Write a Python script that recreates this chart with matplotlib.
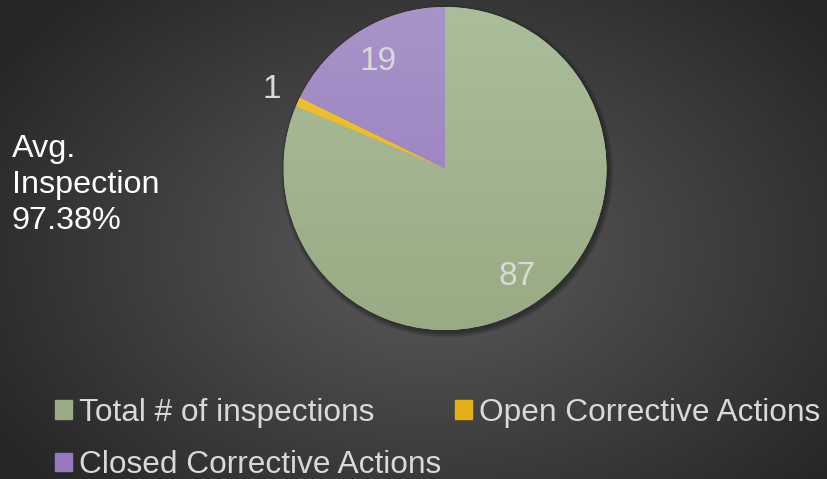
import numpy as np
import matplotlib
matplotlib.use("Agg")
import matplotlib.pyplot as plt
from matplotlib.patches import Patch, Circle
from matplotlib.colors import to_rgb

plt.rcParams['font.family'] = ['Liberation Sans', 'DejaVu Sans']

# chart data
labels = ['Total # of inspections', 'Open Corrective Actions', 'Closed Corrective Actions']
values = [87, 1, 19]
colors_top = ['#abbe9b', '#f2c53a', '#a994c9']
colors_bottom = ['#98ab84', '#e4b018', '#9479bd']
label_dist = [0.80, 1.18, 0.78]
avg_text = 'Avg.\nInspection\n97.38%'

W, H = 828, 479
fig = plt.figure(figsize=(W / 100, H / 100), dpi=100)

# radial background
bg = fig.add_axes([0, 0, 1, 1])
yy, xx = np.mgrid[0:H, 0:W]
r = np.sqrt(((xx - 430) / (W * 0.62)) ** 2 + ((yy - 250) / (H * 0.75)) ** 2)
r = np.clip(r, 0, 1)
c0, c1 = np.array(to_rgb('#5c5c5c')), np.array(to_rgb('#262626'))
img = c0[None, None, :] * (1 - r[..., None]) + c1[None, None, :] * r[..., None]
bg.imshow(img, aspect='auto', extent=[0, W, H, 0])
bg.set_axis_off()

# pie axes (extra margin so the outside label is not clipped)
cx, cy, rad = 445 / W, 1 - 168.5 / H, 161.5
m = 1.3
ax = fig.add_axes([cx - m * rad / W, cy - m * rad / H, 2 * m * rad / W, 2 * m * rad / H])
ax.set_axis_off()

# soft shadow
for k in range(6):
    ax.add_patch(Circle((0.012, -0.018), 1.0 + 0.006 * k, color='black',
                        alpha=0.07, lw=0, zorder=0))

wedges, _ = ax.pie(values, startangle=90, counterclock=False, radius=1,
                   colors=colors_top, wedgeprops=dict(linewidth=0))

grad = np.linspace(0, 1, 256)[:, None]
for w, ct, cb in zip(wedges, colors_top, colors_bottom):
    a, b = np.array(to_rgb(ct)), np.array(to_rgb(cb))
    g = a[None, None, :] * (1 - grad[..., None]) + b[None, None, :] * grad[..., None]
    g = np.repeat(g, 2, axis=1)
    im = ax.imshow(g, extent=[-1, 1, -1, 1], aspect='auto', zorder=2)
    im.set_clip_path(w)
    w.set_zorder(1)

for w, v, d in zip(wedges, values, label_dist):
    mid = np.deg2rad((w.theta1 + w.theta2) / 2)
    ax.text(d * np.cos(mid), d * np.sin(mid), str(v), ha='center', va='center',
            fontsize=24, color='#d9d9d9', zorder=5)
ax.set_xlim(-m, m)
ax.set_ylim(-m, m)
ax.set_aspect('equal')

fig.text(12 / W, 1 - 185 / H, avg_text, ha='left', va='center', fontsize=23.3,
         color='white', linespacing=1.24)

handles = [Patch(color=colors_bottom[i], label=labels[i]) for i in range(3)]
order = [0, 2, 1]
leg = fig.legend([handles[i] for i in order], [labels[i] for i in order],
                 ncol=2, loc='upper left', bbox_to_anchor=(55 / W, 1 - 398 / H),
                 frameon=False, fontsize=22.8, labelcolor='#d9d9d9',
                 handlelength=0.53, handleheight=0.53, handletextpad=0.22,
                 columnspacing=0.44, labelspacing=0.7, borderpad=0, borderaxespad=0)

fig.savefig('out.png', dpi=100)
